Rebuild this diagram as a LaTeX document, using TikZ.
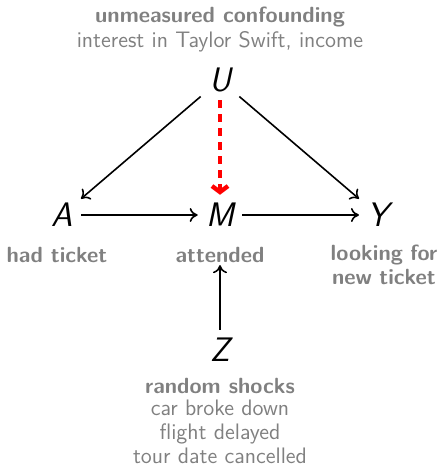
\documentclass[tikz,border=0pt]{standalone}
\usepackage{tikz}
\usetikzlibrary{arrows.meta, positioning}

\begin{document}
\begin{tikzpicture}[x=0.5pt, y=-0.5pt, >={To[length=4pt,width=7pt]}, every node/.style={font=\sffamily}, var/.style={font=\sffamily\itshape\fontsize{17}{20}\selectfont, inner sep=4pt}, lab/.style={text=gray, align=center, font=\sffamily\bfseries\fontsize{11}{13}\selectfont, inner sep=1pt}, note/.style={text=gray, align=center, font=\sffamily\fontsize{11.2}{13}\selectfont, inner sep=1pt}]
\useasboundingbox (0,0) rectangle (438,473);
% variables
\node[var] (U) at (220,80) {U};
\node[var] (A) at (62,215) {A};
\node[var] (M) at (220,215) {M};
\node[var] (Y) at (378,215) {Y};
\node[var] (Z) at (220,350) {Z};
% labels
\node[lab] (lU) at (220,17) {unmeasured confounding};
\node[note] (nU) at (220,42) {interest in Taylor Swift, income};
\node[lab] (lA) at (57,255) {had ticket};
\node[lab] (lM) at (220,255) {attended};
\node[lab, text width=66pt] (lY) at (384,265) {looking for\\[-1pt]new ticket};
\node[lab] (lZ) at (220,386) {random shocks};
\node[note] (nZ) at (220,432) {car broke down\\[-1pt]flight delayed\\[-1pt]tour date cancelled};
% edges
\draw[->, line width=0.8pt] (U) -- (A);
\draw[->, line width=0.8pt] (U) -- (Y);
\draw[->, line width=0.8pt] (A) -- (M);
\draw[->, line width=0.8pt] (M) -- (Y);
\draw[->, line width=0.8pt] (Z) -- (lM);
\draw[-{Straight Barb[length=3pt,width=8pt]}, red, line width=2.2pt, dash pattern=on 4pt off 3pt] (U) -- (M);
\end{tikzpicture}
\end{document}
